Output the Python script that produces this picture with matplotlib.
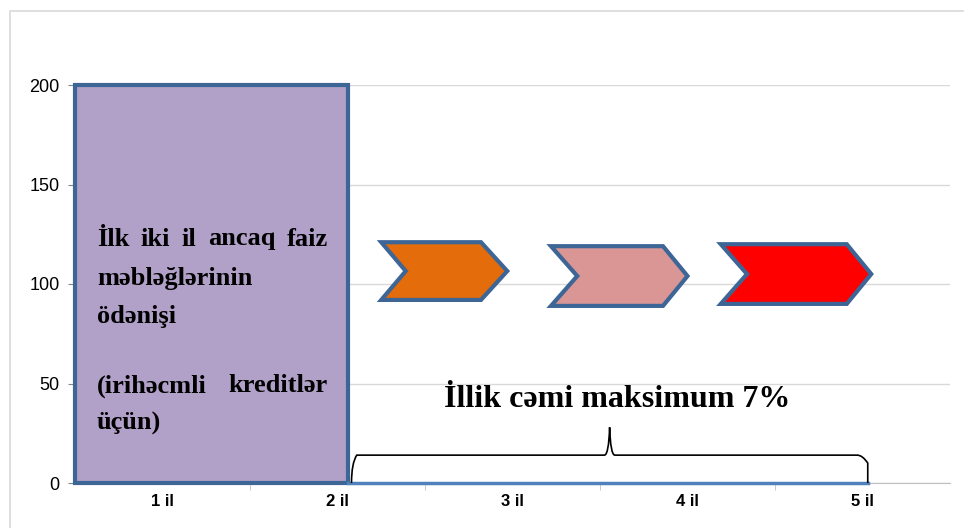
import matplotlib
matplotlib.use('Agg')
import matplotlib.pyplot as plt
from matplotlib.patches import Rectangle, Polygon
from matplotlib.path import Path
from matplotlib.patches import PathPatch

# category axis
years = ['1 il', '2 il', '3 il', '4 il', '5 il']
yticks = [0, 50, 100, 150, 200]

# purple block: first two years, full height
block_x = (-0.5, 1.06)
block_top = 200

# chevrons: (left, notch, tip start, right, bottom, top)
chevrons = [
    (1.25, 1.39, 1.82, 1.97, 92, 121),
    (2.22, 2.37, 2.86, 3.00, 89, 119),
    (3.19, 3.34, 3.91, 4.05, 90, 120),
]
chevron_colors = ['#E46C0A', '#D99694', '#FF0000']

# brace spanning years 2..5
brace_x = (1.08, 4.03)
brace_level = 14
brace_tip = 28

block_lines = ['İlk iki il ancaq faiz', 'məbləğlərinin', 'ödənişi', '',
               '(irihəcmli kreditlər', 'üçün)']
justified = [True, False, False, False, True, False]
summary_text = 'İllik cəmi maksimum 7%'

edge = '#3D6697'
serif = ['Liberation Serif', 'DejaVu Serif']
narrow = ['Liberation Sans Narrow', 'Liberation Sans', 'DejaVu Sans']

fig = plt.figure(figsize=(9.64, 5.28), dpi=100)
fig.patches.append(Rectangle((10 / 964, -0.1), 2, (528 - 11) / 528 + 0.1,
                             transform=fig.transFigure, fill=False,
                             edgecolor='#D9D9D9', lw=1.2))
ax = fig.add_axes([75 / 964, 45 / 528, 875 / 964, 398 / 528])

ax.set_xlim(-0.5, 4.5)
ax.set_ylim(0, 200)
ax.set_yticks(yticks)
ax.set_yticklabels([str(v) for v in yticks], family=narrow, fontsize=13)
ax.set_xticks(range(len(years)))
ax.set_xticklabels(years, family=narrow, fontsize=12, fontweight='bold')
ax.set_xticks([i + 0.5 for i in range(len(years) - 1)], minor=True)
ax.tick_params(axis='x', which='major', length=0, pad=8)
ax.tick_params(axis='x', which='minor', length=5, color='#BFBFBF')
ax.tick_params(axis='y', length=5, color='#868686', pad=6)
for s in ['top', 'right']:
    ax.spines[s].set_visible(False)
ax.spines['left'].set_color('#868686')
ax.spines['bottom'].set_color('#BFBFBF')
ax.grid(axis='y', color='#D9D9D9', lw=1)
ax.set_axisbelow(True)

ax.add_patch(Rectangle((block_x[0], 0), block_x[1] - block_x[0], block_top,
                       facecolor='#B1A0C7', edgecolor=edge, lw=3, zorder=3,
                       clip_on=False))

for (l, n, t, r, b, tp), c in zip(chevrons, chevron_colors):
    mid = (b + tp) / 2
    pts = [(l, tp), (t, tp), (r, mid), (t, b), (l, b), (n, mid)]
    ax.add_patch(Polygon(pts, closed=True, facecolor=c, edgecolor=edge,
                         lw=3, joinstyle='miter', zorder=4))

# blue baseline under the brace
ax.plot([block_x[1], brace_x[1]], [0, 0], color='#4F81BD', lw=2.5,
        zorder=3, clip_on=False)

# curly brace
x0, x1 = brace_x
xm = x0 + (x1 - x0) * 0.5
dx = 0.03
verts = [(x0, 0), (x0, brace_level - 4), (x0 + dx, brace_level), (x0 + dx * 2, brace_level),
         (xm - dx, brace_level), (xm - 0.005, brace_level), (xm, brace_tip),
         (xm + 0.005, brace_level), (xm + dx, brace_level),
         (x1 - dx * 2, brace_level), (x1 - dx, brace_level), (x1, brace_level - 4), (x1, 0)]
codes = [Path.MOVETO, Path.CURVE3, Path.CURVE3, Path.LINETO,
         Path.LINETO, Path.CURVE3, Path.CURVE3, Path.CURVE3, Path.CURVE3,
         Path.LINETO, Path.CURVE3, Path.CURVE3, Path.LINETO]
ax.add_patch(PathPatch(Path(verts, codes), fill=False, edgecolor='black',
                       lw=1.2, zorder=4))

ax.text(2.6, 42, summary_text, family=serif, fontweight='bold', fontsize=23,
        ha='center', va='center', zorder=5)

# block text, some lines justified
fig.canvas.draw()
renderer = fig.canvas.get_renderer()
left_px, right_px = 97, 328
inv = ax.transData.inverted()
line_y = [239, 278, 316, 352, 386, 423]
for line, just, ypx in zip(block_lines, justified, line_y):
    if not line:
        continue
    yd = inv.transform((0, 528 - ypx))[1]
    if not just:
        xd = inv.transform((left_px, 0))[0]
        ax.text(xd, yd, line, family=serif, fontweight='bold', fontsize=19,
                ha='left', va='center', zorder=5)
        continue
    words = line.split()
    arts = []
    widths = []
    for w in words:
        a = ax.text(0, yd, w, family=serif, fontweight='bold', fontsize=19,
                    ha='left', va='center', zorder=5)
        widths.append(a.get_window_extent(renderer).width)
        arts.append(a)
    gap = (right_px - left_px - sum(widths)) / (len(words) - 1)
    x = left_px
    for a, w in zip(arts, widths):
        a.set_x(inv.transform((x, 0))[0])
        x += w + gap

fig.savefig('out.png', dpi=100)
